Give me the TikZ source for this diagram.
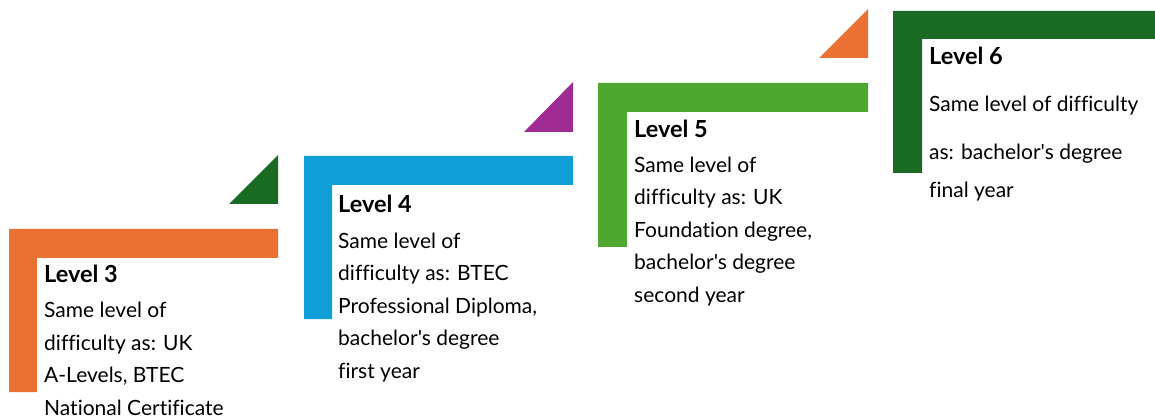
\documentclass[tikz,border=0pt]{standalone}
\usepackage{fontspec}
\setmainfont{Lato}[Ligatures={TeXOff,NoCommon}]
\definecolor{lvorange}{HTML}{E97132}
\definecolor{lvblue}{HTML}{0F9ED5}
\definecolor{lvgreen}{HTML}{4EA72E}
\definecolor{lvdkgreen}{HTML}{196B24}
\definecolor{lvpurple}{HTML}{A02B93}
\begin{document}
\begin{tikzpicture}
[every node/.style={inner sep=0pt, anchor=base west},
 heading/.style={font=\fontsize{23.5}{28}\selectfont\bfseries},
 body/.style={align=left, font=\fontsize{21}{32.5}\selectfont}]
\useasboundingbox (0pt, 0pt) rectangle (1155pt, -419pt);
% step shapes
\fill [lvorange] (9pt, -229pt) -- (278pt, -229pt) -- (278pt, -258pt) -- (37pt, -258pt) -- (37pt, -392pt) -- (9pt, -392pt) -- cycle;
\fill [lvdkgreen] (229pt, -204pt) -- (278pt, -204pt) -- (278pt, -155pt) -- cycle;
\fill [lvblue] (304pt, -156pt) -- (573pt, -156pt) -- (573pt, -185pt) -- (332pt, -185pt) -- (332pt, -319pt) -- (304pt, -319pt) -- cycle;
\fill [lvpurple] (524pt, -132pt) -- (573pt, -132pt) -- (573pt, -82pt) -- cycle;
\fill [lvgreen] (598pt, -83pt) -- (868pt, -83pt) -- (868pt, -112pt) -- (627pt, -112pt) -- (627pt, -247pt) -- (598pt, -247pt) -- cycle;
\fill [lvorange] (819pt, -58pt) -- (868pt, -58pt) -- (868pt, -9pt) -- cycle;
\fill [lvdkgreen] (893pt, -11pt) -- (1155pt, -11pt) -- (1155pt, -39pt) -- (922pt, -39pt) -- (922pt, -173pt) -- (893pt, -173pt) -- cycle;
% texts (body nodes sit on the baseline of their last line)
\node (h3) [heading] at (44pt, -283pt) {Level 3};
\node (b3) [body] at (44pt, -415pt) {Same level of\\difficulty as: UK\\A-Levels, BTEC\\National Certificate};
\node (h4) [heading] at (338pt, -213pt) {Level 4};
\node (b4) [body] at (338pt, -378pt) {Same level of\\difficulty as: BTEC\\Professional Diploma,\\bachelor's degree\\first year};
\node (h5) [heading] at (634pt, -138pt) {Level 5};
\node (b5) [body] at (634pt, -302pt) {Same level of\\difficulty as: UK\\Foundation degree,\\bachelor's degree\\second year};
\node (h6) [heading] at (929pt, -65pt) {Level 6};
\node (b6) [body] at (929pt, -198pt) {Same level of difficulty\\[15.5pt]as: bachelor's degree\\[5.5pt]final year};
\end{tikzpicture}
\end{document}
